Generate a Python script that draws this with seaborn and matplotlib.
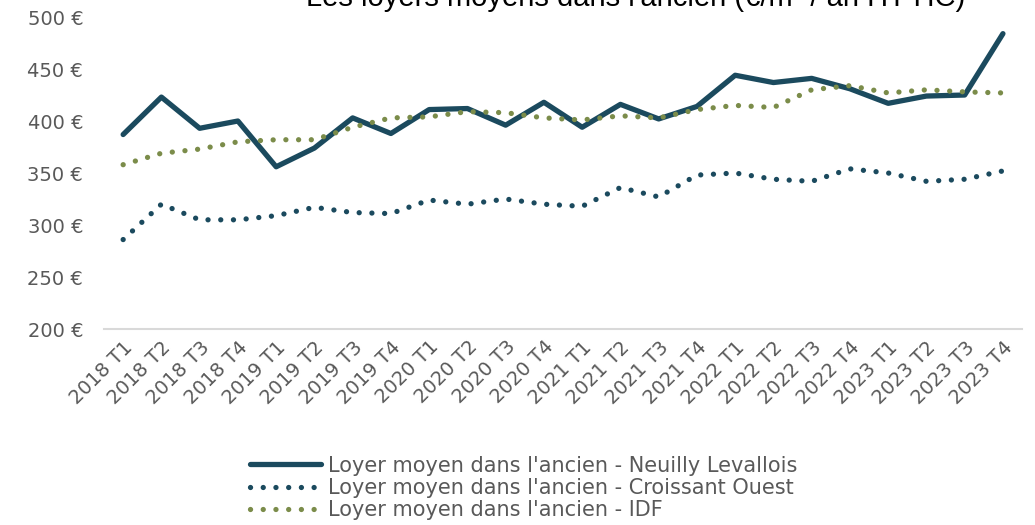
import pandas as pd
import numpy as np
import seaborn as sns
import matplotlib
import matplotlib.pyplot as plt

quarters = [f"{y} T{q}" for y in range(2018, 2024) for q in range(1, 5)]

neuilly = [387, 423, 393, 400, 356, 374, 403, 388, 411, 412, 396, 418,
           394, 416, 402, 414, 444, 437, 441, 431, 417, 424, 425, 484]
croissant = [286, 320, 305, 305, 309, 317, 312, 311, 324, 320, 325, 320,
             318, 336, 327, 348, 350, 344, 342, 354, 350, 342, 344, 352]
idf = [358, 369, 373, 380, 382, 382, 394, 403, 404, 409, 408, 403,
       401, 405, 403, 411, 415, 413, 430, 434, 427, 430, 428, 427]

labels = ["Loyer moyen dans l'ancien - Neuilly Levallois",
          "Loyer moyen dans l'ancien - Croissant Ouest",
          "Loyer moyen dans l'ancien - IDF"]

navy = "#1b4a5e"
green = "#7b8c4a"
grey = "#595959"

sns.set_style("white")
plt.rcParams['font.family'] = ['DejaVu Sans']

df = pd.DataFrame({"trimestre": quarters, "neuilly": neuilly,
                   "croissant": croissant, "idf": idf})

fig = plt.figure(figsize=(10.35, 5.25), dpi=100)
ax = fig.add_axes([0.1005, 0.3733, 0.887, 0.5943])

sns.lineplot(data=df, x="trimestre", y="neuilly", ax=ax, color=navy,
             lw=3.8, label=labels[0], sort=False)
sns.lineplot(data=df, x="trimestre", y="croissant", ax=ax, color=navy,
             lw=3.8, label=labels[1], sort=False)
sns.lineplot(data=df, x="trimestre", y="idf", ax=ax, color=green,
             lw=3.8, label=labels[2], sort=False)
for ln in ax.lines[1:]:
    ln.set_linestyle((0, (0.01, 2.4)))
    ln.set_dash_capstyle('round')
ax.lines[0].set_solid_capstyle('round')

ax.set_xlim(-0.5, len(quarters) - 0.5)
ax.set_ylim(200, 500)
ax.set_yticks(range(200, 501, 50))
ax.set_yticklabels([f"{v} €" for v in range(200, 501, 50)])
ax.set_xlabel("")
ax.set_ylabel("")
ax.tick_params(axis='both', length=0, labelsize=14, colors=grey)
ax.tick_params(axis='y', pad=15)
ax.tick_params(axis='x', pad=6)
plt.setp(ax.get_xticklabels(), rotation=45, ha='right', rotation_mode='anchor')

for s in ["top", "right", "left"]:
    ax.spines[s].set_visible(False)
ax.spines["bottom"].set_color("#d9d9d9")
ax.spines["bottom"].set_linewidth(1.5)

handles, labs = ax.get_legend_handles_labels()
ax.get_legend().remove()
fig.legend(handles, labs, loc="center", bbox_to_anchor=(0.506, 1 - 488 / 525),
           frameon=False, fontsize=15, handlelength=3.4, handletextpad=0.3,
           labelspacing=0.12, labelcolor=grey)

fig.text(0.614, 1 - 6 / 525, "Les loyers moyens dans l'ancien (€/m² / an HT HC)",
         ha='center', va='baseline', fontsize=21, color='black',
         family=['Liberation Sans', 'DejaVu Sans'])

fig.savefig("out.png", dpi=100)
